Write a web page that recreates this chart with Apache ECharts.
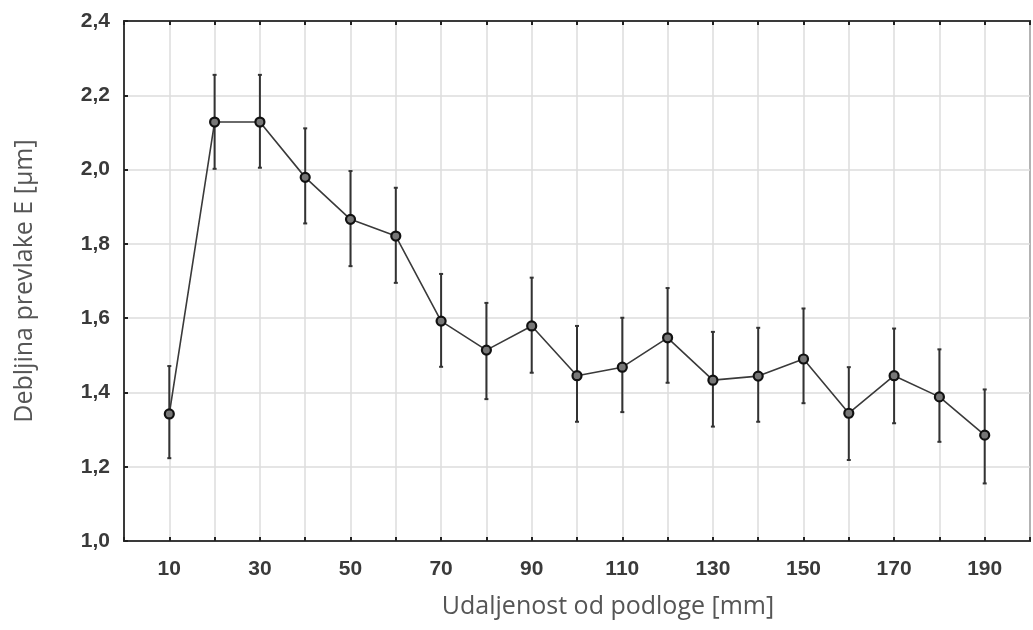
<!DOCTYPE html>
<html>
<head>
<meta charset="utf-8">
<script src="https://cdn.jsdelivr.net/npm/echarts@6/dist/echarts.min.js"></script>
<style>
html,body{margin:0;padding:0;background:#ffffff;}
#chart{width:1033px;height:630px;}
</style>
</head>
<body>
<div id="chart"></div>
<script>
// Data
const distances = [10, 20, 30, 40, 50, 60, 70, 80, 90, 100, 110, 120, 130, 140, 150, 160, 170, 180, 190];
const meanThickness = [1.342, 2.128, 2.128, 1.979, 1.866, 1.821, 1.592, 1.514, 1.579, 1.445, 1.468, 1.547, 1.433, 1.444, 1.490, 1.344, 1.445, 1.388, 1.285];
const upperBound = [1.471, 2.255, 2.255, 2.111, 1.996, 1.951, 1.719, 1.641, 1.709, 1.579, 1.601, 1.681, 1.563, 1.574, 1.626, 1.468, 1.572, 1.516, 1.408];
const lowerBound = [1.223, 2.002, 2.005, 1.855, 1.740, 1.695, 1.469, 1.382, 1.453, 1.321, 1.347, 1.426, 1.308, 1.321, 1.371, 1.218, 1.317, 1.267, 1.155];
const xLabelValues = [10, 30, 50, 70, 90, 110, 130, 150, 170, 190];
const xTitle = 'Udaljenost od podloge [mm]';
const yTitle = 'Debljina prevlake E [µm]';

const lineData = distances.map((d, i) => [d, meanThickness[i]]);
const errData = distances.map((d, i) => [d, lowerBound[i], upperBound[i]]);

const chart = echarts.init(document.getElementById('chart'), null, {renderer: 'canvas'});

const labelFont = {fontFamily: 'Liberation Sans, Arial, sans-serif', fontSize: 21, color: '#3a3a3a', fontWeight: 'bold'};

chart.setOption({
  backgroundColor: '#ffffff',
  animation: false,
  grid: {left: 124, top: 21, width: 916, bottom: 89, show: true, borderColor: '#3a3a3a', borderWidth: 2, backgroundColor: '#ffffff'},
  xAxis: [{
    type: 'value', min: 0, max: 200, interval: 10,
    name: xTitle, nameLocation: 'middle', nameGap: 53,
    nameTextStyle: {fontFamily: 'Open Sans, sans-serif', fontSize: 25, color: '#555', padding: [0, 0, 0, 62]},
    axisLine: {show: true, onZero: false, lineStyle: {color: '#3a3a3a', width: 2}},
    axisTick: {show: true, inside: true, length: 4, lineStyle: {color: '#222', width: 2}},
    axisLabel: Object.assign({margin: 18, formatter: v => xLabelValues.includes(v) ? String(v) : ''}, labelFont),
    splitLine: {show: true, lineStyle: {color: '#dcdcdc', width: 1.5}}
  }, {
    type: 'value', position: 'top', min: 0, max: 200, interval: 10,
    axisLine: {show: true, lineStyle: {color: '#3a3a3a', width: 2}},
    axisTick: {show: true, inside: true, length: 4, lineStyle: {color: '#222', width: 2}},
    axisLabel: {show: false}, splitLine: {show: false}
  }],
  yAxis: {
    type: 'value', min: 1.0, max: 2.4, interval: 0.2,
    name: yTitle, nameLocation: 'middle', nameGap: 87,
    nameTextStyle: {fontFamily: 'Open Sans, sans-serif', fontSize: 25, color: '#555', padding: [0, 0, 0, 0]},
    axisLine: {show: true, lineStyle: {color: '#3a3a3a', width: 2}},
    axisTick: {show: true, inside: true, length: 4, lineStyle: {color: '#222', width: 2}},
    axisLabel: Object.assign({margin: 14, formatter: v => v.toFixed(1).replace('.', ',')}, labelFont),
    splitLine: {show: true, lineStyle: {color: '#dcdcdc', width: 1.5}}
  },
  series: [{
    type: 'custom',
    data: errData,
    z: 3,
    renderItem: function (params, api) {
      const x = api.value(0);
      const lo = api.coord([x, api.value(1)]);
      const hi = api.coord([x, api.value(2)]);
      const cap = 2;
      const style = {stroke: '#333', lineWidth: 2};
      return {
        type: 'group',
        children: [
          {type: 'line', shape: {x1: lo[0], y1: lo[1], x2: hi[0], y2: hi[1]}, style: style},
          {type: 'line', shape: {x1: lo[0] - cap, y1: lo[1], x2: lo[0] + cap, y2: lo[1]}, style: style},
          {type: 'line', shape: {x1: hi[0] - cap, y1: hi[1], x2: hi[0] + cap, y2: hi[1]}, style: style}
        ]
      };
    }
  }, {
    type: 'line',
    data: lineData,
    z: 4,
    symbol: 'circle',
    symbolSize: 9,
    lineStyle: {color: '#3a3a3a', width: 1.6},
    itemStyle: {color: '#777', borderColor: '#111', borderWidth: 2.2}
  }]
});
</script>
</body>
</html>
